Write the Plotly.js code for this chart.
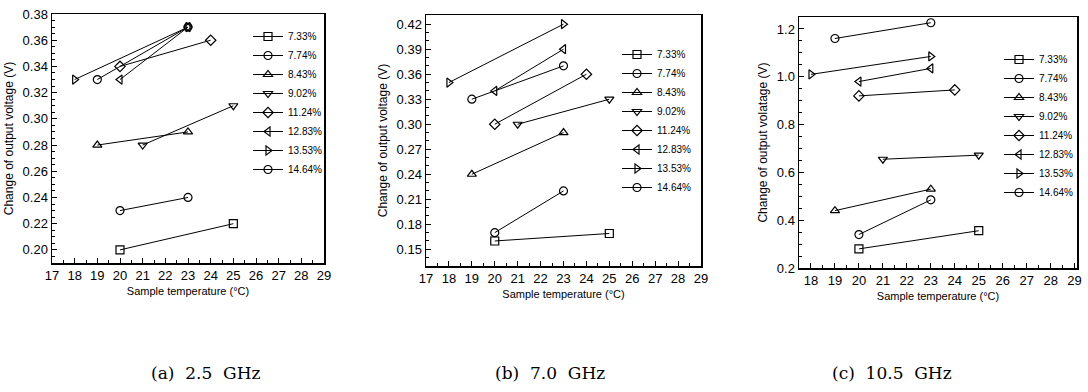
<!DOCTYPE html>
<html>
<head>
<meta charset="utf-8">
<script src="https://cdn.plot.ly/plotly-3.0.1.min.js"></script>
<style>html,body{margin:0;padding:0;background:#fff}#chart{width:1088px;height:392px}</style>
</head>
<body>
<div id="chart"></div>
<script>
// ---- data ----
const seriesNames = ['7.33%', '7.74%', '8.43%', '9.02%', '11.24%', '12.83%', '13.53%', '14.64%'];
// sample temperature (°C) for each series: [start, end]
const temperatures = [[20, 25], [20, 23], [19, 23], [21, 25], [20, 24], [20, 23], [18, 23], [19, 23]];
// change of output voltage (V)
const voltsA = [[0.20, 0.22], [0.23, 0.24], [0.28, 0.29], [0.28, 0.31], [0.34, 0.36], [0.33, 0.37], [0.33, 0.37], [0.33, 0.37]];
const voltsB = [[0.16, 0.169], [0.17, 0.22], [0.24, 0.29], [0.30, 0.33], [0.30, 0.36], [0.34, 0.39], [0.35, 0.42], [0.33, 0.37]];
const voltsC = [[0.28, 0.356], [0.34, 0.485], [0.44, 0.53], [0.655, 0.672], [0.92, 0.945], [0.98, 1.035], [1.01, 1.085], [1.16, 1.226]];
const panelCaptions = ['(a)\u00a0 2.5\u00a0 GHz', '(b)\u00a0 7.0\u00a0 GHz', '(c)\u00a0 10.5\u00a0 GHz'];
const xTicksA = [17, 18, 19, 20, 21, 22, 23, 24, 25, 26, 27, 28, 29];
const xTicksC = [18, 19, 20, 21, 22, 23, 24, 25, 26, 27, 28, 29];

// ---- styles ----
const symbols = ['square-open', 'circle-open', 'triangle-up-open', 'triangle-down-open',
                 'diamond-open', 'triangle-left-open', 'triangle-right-open', 'circle-open'];
const W = 1088, H = 392;
const px = (a, b) => [a / W, b / W];
const py = (top, bottom) => [1 - bottom / H, 1 - top / H];
const tickFont = {family: 'Liberation Sans, Arial, sans-serif', size: 13, color: '#000'};
const titleFont = {family: 'Liberation Sans, Arial, sans-serif', size: 12, color: '#000'};
const xtitleFont = {family: 'Liberation Sans Narrow, Liberation Sans, Arial, sans-serif', size: 11, color: '#000'};

const panels = [
  {volts: voltsA, xa: 'x', ya: 'y', legend: 'legend'},
  {volts: voltsB, xa: 'x2', ya: 'y2', legend: 'legend2'},
  {volts: voltsC, xa: 'x3', ya: 'y3', legend: 'legend3'}
];

const traces = [];
panels.forEach(p => {
  seriesNames.forEach((name, i) => {
    traces.push({
      x: temperatures[i], y: p.volts[i], name: name,
      type: 'scatter', mode: 'lines+markers',
      xaxis: p.xa, yaxis: p.ya, legend: p.legend,
      line: {color: '#000', width: 1},
      marker: {symbol: symbols[i], size: 8, color: '#000', line: {width: 1.2, color: '#000'}},
      cliponaxis: false
    });
  });
});

function xAxis(domain, range, ticks, anchor) {
  return {
    domain: domain, range: range, anchor: anchor,
    tickmode: 'array', tickvals: ticks, ticktext: ticks.map(String),
    ticks: 'inside', ticklen: 5, tickwidth: 1, tickcolor: '#000',
    minor: {ticks: 'inside', ticklen: 3, dtick: 0.5, tickcolor: '#000', tick0: 17},
    showline: true, linecolor: '#000', linewidth: 1.5, mirror: true,
    showgrid: false, zeroline: false, tickfont: tickFont,
    title: {text: 'Sample temperature (°C)', font: xtitleFont, standoff: 5}
  };
}
function yAxis(domain, range, tick0, dtick, fmt, anchor, title) {
  return {
    domain: domain, range: range, anchor: anchor,
    tick0: tick0, dtick: dtick, tickformat: fmt,
    ticks: 'inside', ticklen: 5, tickwidth: 1, tickcolor: '#000',
    minor: {ticks: 'inside', ticklen: 3, tickcolor: '#000'},
    showline: true, linecolor: '#000', linewidth: 1.5, mirror: true,
    showgrid: false, zeroline: false, tickfont: tickFont,
    title: {text: title, font: titleFont, standoff: 6}
  };
}
function legendAt(x, y) {
  return {
    x: x / W, y: 1 - y / H, xanchor: 'left', yanchor: 'top',
    bgcolor: 'rgba(0,0,0,0)', borderwidth: 0,
    font: {family: 'Liberation Sans Narrow, Liberation Sans, Arial, sans-serif', size: 10, color: '#000'},
    itemwidth: 30, tracegroupgap: 0
  };
}

const layout = {
  width: W, height: H,
  margin: {l: 0, r: 0, t: 0, b: 0},
  paper_bgcolor: '#fff', plot_bgcolor: '#fff',
  showlegend: true,
  xaxis: xAxis(px(52, 324), [17, 29], xTicksA, 'y'),
  yaxis: yAxis(py(14, 263), [0.19, 0.38], 0.20, 0.02, '.2f', 'x', 'Change of output voltage (V)'),
  xaxis2: xAxis(px(426, 701), [17, 29], xTicksA, 'y2'),
  yaxis2: yAxis(py(15, 266), [0.13, 0.431], 0.15, 0.03, '.2f', 'x2', 'Change of output voltage (V)'),
  xaxis3: xAxis(px(799, 1077), [17.5, 29.1], xTicksC, 'y3'),
  yaxis3: yAxis(py(17, 268), [0.2, 1.25], 0.2, 0.2, '.1f', 'x3', 'Change of output volatage (V)'),
  legend: legendAt(248, 22),
  legend2: legendAt(617, 40),
  legend3: legendAt(999, 45),
  annotations: panelCaptions.map((t, i) => ({
    text: t, xref: 'paper', yref: 'paper',
    x: [205, 550, 892][i] / W, y: 1 - 373 / H, xanchor: 'center', yanchor: 'middle',
    showarrow: false,
    font: {family: 'DejaVu Serif, Liberation Serif, serif', size: 17, color: '#000'}
  }))
};

Plotly.newPlot('chart', traces, layout, {displayModeBar: false, staticPlot: true});
</script>
</body>
</html>
